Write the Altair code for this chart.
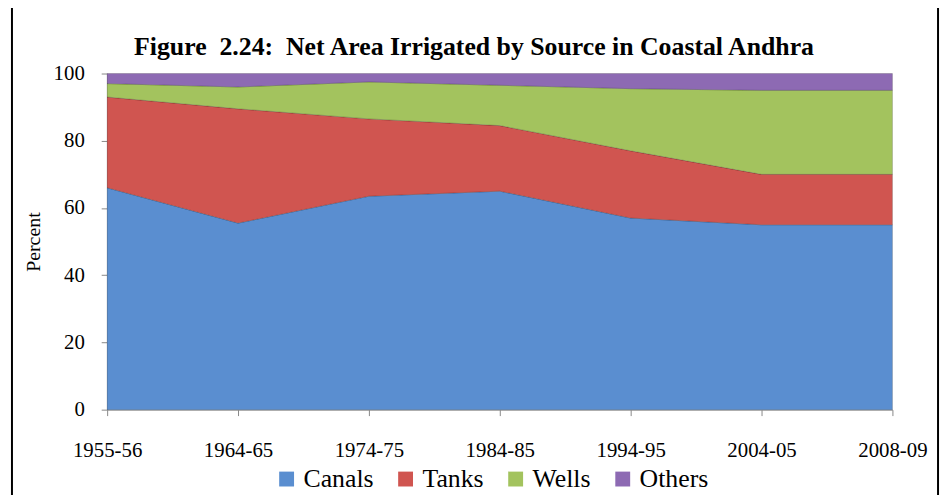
import altair as alt
import pandas as pd

years = ["1955-56", "1964-65", "1974-75", "1984-85", "1994-95", "2004-05", "2008-09"]
canals = [66.0, 55.5, 63.5, 65.0, 57.0, 55.0, 55.0]
tanks = [27.0, 34.0, 23.0, 19.5, 20.0, 15.0, 15.0]
wells = [4.0, 6.5, 11.0, 12.0, 18.5, 25.0, 25.0]
others = [3.0, 4.0, 2.5, 3.5, 4.5, 5.0, 5.0]

sources = ["Canals", "Tanks", "Wells", "Others"]
colors = ["#5A8ED0", "#D05550", "#A3C35E", "#8D6AB3"]
title_text = "Figure\u00a0 2.24:\u00a0 Net Area Irrigated by Source in Coastal Andhra"

rows = []
for name, vals in zip(sources, [canals, tanks, wells, others]):
    for y, v in zip(years, vals):
        rows.append({"Year": y, "Source": name, "Value": v, "order": sources.index(name)})
df = pd.DataFrame(rows)

FONT = "Liberation Serif"

area = alt.Chart(df).mark_area(opacity=1, stroke="#00000030", strokeWidth=1).encode(
    x=alt.X("Year:O", sort=years, scale=alt.Scale(type="point", padding=0),
            axis=alt.Axis(title=None, labelAngle=0, labelFont=FONT, labelFontSize=21,
                          labelColor="black", labelPadding=24, tickSize=6,
                          domainColor="#888888", tickColor="#888888")),
    y=alt.Y("Value:Q", stack="zero", scale=alt.Scale(domain=[0, 100]),
            axis=alt.Axis(title="Percent", values=[0, 20, 40, 60, 80, 100], grid=False,
                          labelFont=FONT, labelFontSize=21, labelColor="black",
                          titleFont=FONT, titleFontSize=20, titleFontWeight="normal",
                          titleColor="black", titlePadding=10, tickSize=6, labelPadding=17,
                          domainColor="#888888", tickColor="#888888")),
    color=alt.Color("Source:N", sort=sources,
                    scale=alt.Scale(domain=sources, range=colors),
                    legend=alt.Legend(title=None, orient="none", direction="horizontal",
                                      legendX=168, legendY=396, labelFont=FONT,
                                      labelFontSize=26, labelColor="black",
                                      symbolType="square", symbolSize=225,
                                      symbolStrokeWidth=0, columnPadding=19, labelOffset=4,
                                      padding=0)),
    order=alt.Order("order:Q"),
)

frame = alt.Chart(pd.DataFrame({"a": [0]})).mark_rect(
    fill="transparent", stroke="black", strokeWidth=2
).encode(x=alt.value(-96), x2=alt.value(838), y=alt.value(-68), y2=alt.value(460))

title = alt.Chart(pd.DataFrame({"t": [title_text]})).mark_text(
    font=FONT, fontSize=26, fontWeight="bold", color="black", align="center", baseline="alphabetic"
).encode(text="t:N", x=alt.value(370), y=alt.value(-19))

chart = alt.layer(frame, area, title).properties(
    width=792, height=339,
    autosize=alt.AutoSizeParams(type="none"),
    padding={"left": 100, "top": 64, "right": 50, "bottom": 84},
).configure(font=FONT).configure_legend(labelFont=FONT).configure_view(stroke=None)

chart.save("out.html", embed_options={"renderer": "svg", "actions": False})
